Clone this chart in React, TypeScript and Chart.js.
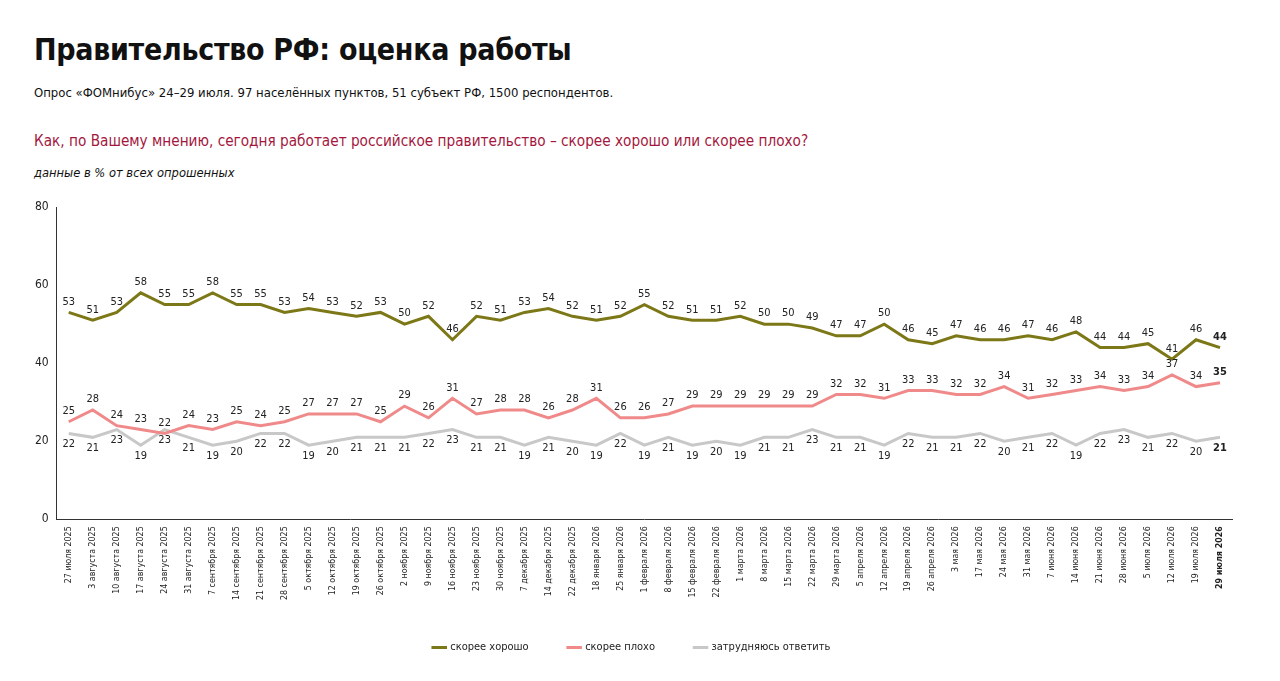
import React, { useEffect, useRef } from "react";
import { Chart, registerables } from "chart.js";
Chart.register(...registerables);

const categories = ["27 июля 2025","3 августа 2025","10 августа 2025","17 августа 2025","24 августа 2025","31 августа 2025","7 сентября 2025","14 сентября 2025","21 сентября 2025","28 сентября 2025","5 октября 2025","12 октября 2025","19 октября 2025","26 октября 2025","2 ноября 2025","9 ноября 2025","16 ноября 2025","23 ноября 2025","30 ноября 2025","7 декабря 2025","14 декабря 2025","22 декабря 2025","18 января 2026","25 января 2026","1 февраля 2026","8 февраля 2026","15 февраля 2026","22 февраля 2026","1 марта 2026","8 марта 2026","15 марта 2026","22 марта 2026","29 марта 2026","5 апреля 2026","12 апреля 2026","19 апреля 2026","26 апреля 2026","3 мая 2026","17 мая 2026","24 мая 2026","31 мая 2026","7 июня 2026","14 июня 2026","21 июня 2026","28 июня 2026","5 июля 2026","12 июля 2026","19 июля 2026","29 июля 2026"];
const good = [53,51,53,58,55,55,58,55,55,53,54,53,52,53,50,52,46,52,51,53,54,52,51,52,55,52,51,51,52,50,50,49,47,47,50,46,45,47,46,46,47,46,48,44,44,45,41,46,44];
const bad = [25,28,24,23,22,24,23,25,24,25,27,27,27,25,29,26,31,27,28,28,26,28,31,26,26,27,29,29,29,29,29,29,32,32,31,33,33,32,32,34,31,32,33,34,33,34,37,34,35];
const hard = [22,21,23,19,23,21,19,20,22,22,19,20,21,21,21,22,23,21,21,19,21,20,19,22,19,21,19,20,19,21,21,23,21,21,19,22,21,21,22,20,21,22,19,22,23,21,22,20,21];
const yTicks = [0, 20, 40, 60, 80];

const FONT = "'Liberation Sans Narrow', 'DejaVu Sans Condensed', sans-serif";

const labelPlugin = {
  id: "labels",
  afterDatasetsDraw(chart: any) {
    const ctx = chart.ctx;
    ctx.save();
    ctx.textAlign = "center";
    chart.data.datasets.forEach((ds: any, di: number) => {
      const meta = chart.getDatasetMeta(di);
      const below = di === 2;
      meta.data.forEach((pt: any, i: number) => {
        const last = i === ds.data.length - 1;
        ctx.font = `${last ? "bold " : ""}11px ${FONT}`;
        ctx.fillStyle = "#222";
        ctx.textBaseline = below ? "top" : "bottom";
        ctx.fillText(String(ds.data[i]), pt.x, below ? pt.y + 5 : pt.y - 5);
      });
    });
    ctx.restore();
  },
};

export default function App() {
  const ref = useRef<HTMLCanvasElement>(null);
  useEffect(() => {
    const ch = new Chart(ref.current!, {
      type: "line",
      data: {
        labels: categories,
        datasets: [
          { label: "скорее хорошо", data: good, borderColor: "#7d7817", backgroundColor: "#7d7817", borderWidth: 3, pointRadius: 0, tension: 0 },
          { label: "скорее плохо", data: bad, borderColor: "#f08a8a", backgroundColor: "#f08a8a", borderWidth: 3, pointRadius: 0, tension: 0 },
          { label: "затрудняюсь ответить", data: hard, borderColor: "#c8c8c8", backgroundColor: "#c8c8c8", borderWidth: 3, pointRadius: 0, tension: 0 },
        ],
      },
      options: {
        animation: false,
        responsive: false,
        layout: { padding: { left: 32, right: 40, top: 12, bottom: 10 } },
        plugins: {
          tooltip: { enabled: false },
          legend: {
            position: "bottom",
            labels: { usePointStyle: true, pointStyle: "line", boxWidth: 30, padding: 40, color: "#222", font: { family: FONT, size: 11 } },
          },
        },
        scales: {
          x: {
            offset: true,
            grid: { display: false, drawTicks: true, tickLength: 5 },
            border: { color: "#333" },
            ticks: {
              autoSkip: false, maxRotation: 90, minRotation: 90, color: "#222", padding: 2,
              font: (c: any) => ({ family: FONT, size: 8.8, weight: c.index === categories.length - 1 ? "bold" : "normal" }),
            },
          },
          y: {
            min: 0, max: 80,
            afterBuildTicks: (s: any) => { s.ticks = yTicks.map((v) => ({ value: v })); },
            grid: { display: false, tickLength: 5 },
            border: { color: "#333" },
            ticks: { color: "#222", font: { family: FONT, size: 12 } },
          },
        },
      },
      plugins: [labelPlugin],
    });
    return () => ch.destroy();
  }, []);
  return (
    <div style={{ position: "relative", width: 1264, height: 665, fontFamily: FONT, color: "#111" }}>
      <div style={{ position: "absolute", left: 26, top: 24, fontSize: 30, fontWeight: "bold", letterSpacing: -0.3 }}>Правительство РФ: оценка работы</div>
      <div style={{ position: "absolute", left: 26, top: 77, fontSize: 13 }}>Опрос «ФОМнибус» 24–29 июля. 97 населённых пунктов, 51 субъект РФ, 1500 респондентов.</div>
      <div style={{ position: "absolute", left: 26, top: 124, fontSize: 15.2, color: "#a3173e" }}>Как, по Вашему мнению, сегодня работает российское правительство – скорее хорошо или скорее плохо?</div>
      <div style={{ position: "absolute", left: 26, top: 157, fontSize: 12.8, fontStyle: "italic" }}>данные в % от всех опрошенных</div>
      <canvas ref={ref} width={1272} height={478} style={{ position: "absolute", left: -8, top: 187 }} />
    </div>
  );
}
